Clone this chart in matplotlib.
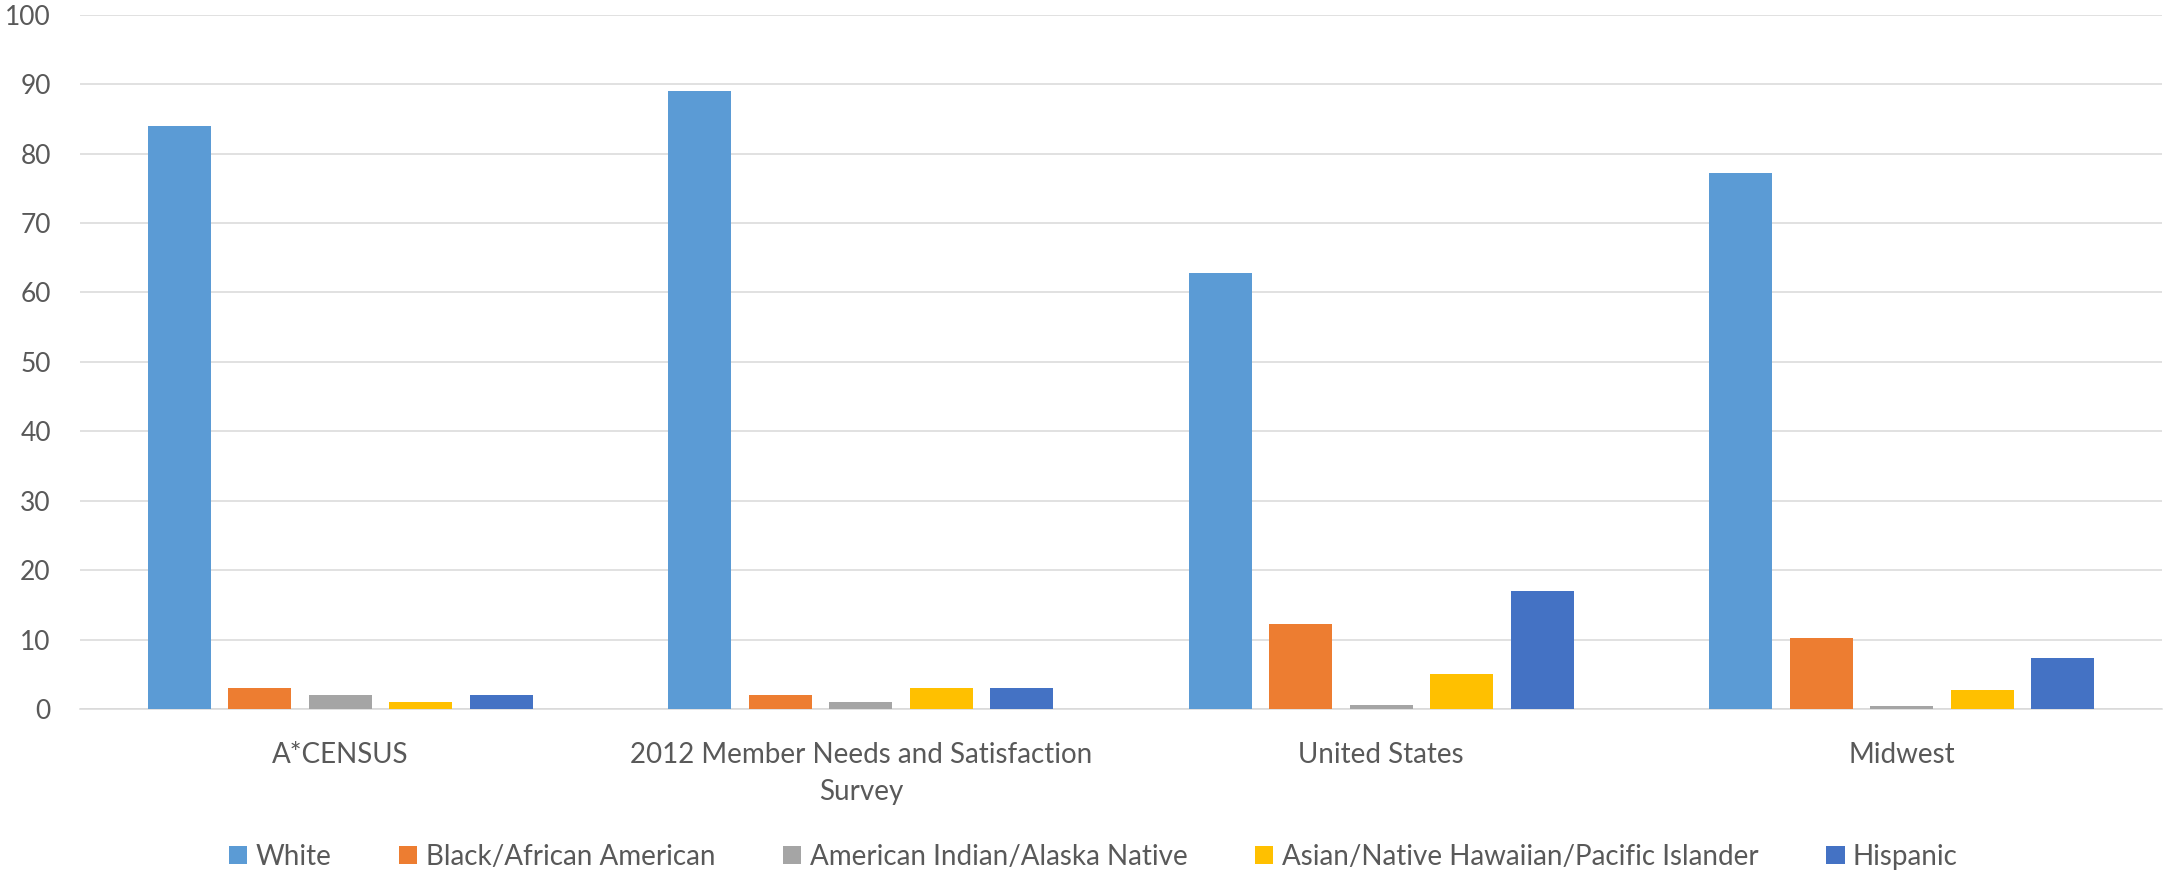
import numpy as np
import matplotlib
matplotlib.use("Agg")
import matplotlib.pyplot as plt

plt.rcParams['font.family'] = ['Lato', 'DejaVu Sans']

categories = ["A*CENSUS", "2012 Member Needs and Satisfaction\nSurvey",
              "United States", "Midwest"]
series_names = ["White", "Black/African American", "American Indian/Alaska Native",
                "Asian/Native Hawaiian/Pacific Islander", "Hispanic"]
white = [84, 89, 62.8, 77.2]
black = [3, 2, 12.2, 10.2]
am_indian = [2, 1, 0.6, 0.5]
asian = [1, 3, 5.1, 2.7]
hispanic = [2, 3, 17.0, 7.3]
colors = ["#5B9BD5", "#ED7D31", "#A5A5A5", "#FFC000", "#4472C4"]

series = [white, black, am_indian, asian, hispanic]
txt = "#595959"

fig = plt.figure(figsize=(21.65, 8.72), dpi=100)
ax = fig.add_axes([80/2165, 1 - 709/872, 2082/2165, (709 - 14.7)/872])

x = np.arange(len(categories))
step = 0.1547
width = 0.121
for i, (vals, name, c) in enumerate(zip(series, series_names, colors)):
    ax.bar(x + (i - 2) * step, vals, width=width, color=c, label=name, zorder=3)

ax.set_xlim(-0.5, len(categories) - 0.5)
ax.set_ylim(0, 100)
ax.set_yticks(np.arange(0, 101, 10))
ax.set_xticks(x)
ax.set_xticklabels(categories, linespacing=1.5)
ax.yaxis.grid(True, color="#d9d9d9", linewidth=1.1, zorder=0)
for s in ["top", "right", "left"]:
    ax.spines[s].set_visible(False)
ax.spines["bottom"].set_color("#d9d9d9")
ax.spines["bottom"].set_linewidth(1.1)
ax.tick_params(axis="y", length=0, pad=21, labelsize=19, labelcolor=txt)
ax.tick_params(axis="x", length=0, pad=24, labelsize=20, labelcolor=txt)

fig.legend(loc="lower center", bbox_to_anchor=(0.505, -0.026), ncol=5, frameon=False,
           fontsize=20, labelcolor=txt, handlelength=0.65, handleheight=0.65,
           handletextpad=0.3, columnspacing=2.45)

fig.savefig("out.png", dpi=100)
